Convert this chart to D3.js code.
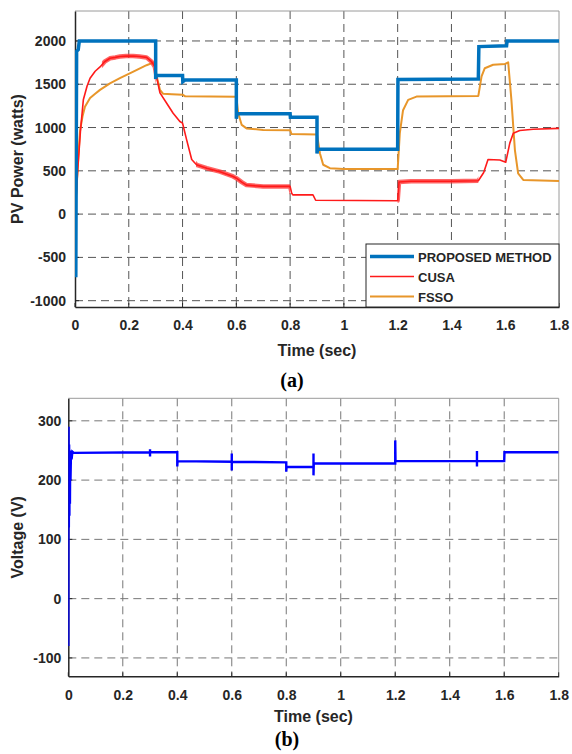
<!DOCTYPE html>
<html>
<head>
<meta charset="utf-8">
<script src="https://cdn.jsdelivr.net/npm/d3@7"></script>
<style>
  html, body { margin: 0; padding: 0; background: #fff; }
  svg { display: block; }
  text { font-family: "Liberation Sans", Arial, sans-serif; font-weight: bold; fill: #262626; }
</style>
</head>
<body>
<svg id="chart" width="572" height="754"></svg>
<script>
// ---------- DATA ----------
const timeTicks = [0, 0.2, 0.4, 0.6, 0.8, 1, 1.2, 1.4, 1.6, 1.8];
const timeTickLabels = ["0", "0.2", "0.4", "0.6", "0.8", "1", "1.2", "1.4", "1.6", "1.8"];
const powerTicks = [-1000, -500, 0, 500, 1000, 1500, 2000];
const powerTickLabels = ["-1000", "-500", "0", "500", "1000", "1500", "2000"];
const voltageTicks = [-100, 0, 100, 200, 300];
const voltageTickLabels = ["-100", "0", "100", "200", "300"];

const seriesNames = ["PROPOSED METHOD", "CUSA", "FSSO"];

const proposedT = [0, 0.003, 0.006, 0.012, 0.016, 0.3, 0.3, 0.302, 0.31, 0.4, 0.401, 0.41, 0.6, 0.6, 0.602, 0.61, 0.8, 0.801, 0.9, 0.9, 0.902, 0.91, 1.2, 1.201, 1.5, 1.502, 1.605, 1.607, 1.8];
const proposedP = [0, -730, 1880, 1900, 2000, 2000, 1560, 1600, 1600, 1600, 1530, 1550, 1550, 1100, 1160, 1160, 1160, 1120, 1120, 700, 750, 750, 750, 1555, 1560, 1935, 1945, 2000, 2000];

const cusaT = [0, 0.01, 0.02, 0.031, 0.045, 0.056, 0.075, 0.093, 0.11, 0.13, 0.15, 0.167, 0.19, 0.216, 0.24, 0.266, 0.285, 0.297, 0.305, 0.316, 0.341, 0.365, 0.39, 0.4, 0.415, 0.434, 0.452, 0.49, 0.539, 0.588, 0.6, 0.62, 0.638, 0.7, 0.8, 0.806, 0.81, 0.885, 0.895, 1.2, 1.205, 1.25, 1.4, 1.5, 1.52, 1.536, 1.58, 1.602, 1.617, 1.63, 1.654, 1.704, 1.8];
const cusaP = [0, 500, 950, 1320, 1480, 1570, 1650, 1700, 1760, 1800, 1810, 1820, 1825, 1827, 1820, 1810, 1760, 1700, 1560, 1400, 1280, 1165, 1070, 1050, 860, 630, 570, 530, 490, 435, 415, 370, 335, 320, 320, 240, 222, 222, 160, 155, 370, 380, 380, 385, 480, 630, 625, 600, 820, 935, 965, 980, 990];
// time spans where the CUSA trace shows visible ripple
const cusaRippleStart = [0.1, 0.45, 1.2];
const cusaRippleEnd = [0.3, 0.8, 1.5];

const fssoT = [0, 0.006, 0.012, 0.019, 0.028, 0.037, 0.056, 0.075, 0.093, 0.13, 0.167, 0.217, 0.266, 0.291, 0.297, 0.304, 0.316, 0.328, 0.36, 0.4, 0.41, 0.6, 0.607, 0.62, 0.638, 0.7, 0.8, 0.805, 0.9, 0.911, 0.923, 0.948, 1.0, 1.2, 1.208, 1.22, 1.239, 1.27, 1.5, 1.512, 1.524, 1.555, 1.6, 1.611, 1.623, 1.636, 1.648, 1.667, 1.8];
const fssoP = [0, 300, 650, 970, 1130, 1240, 1340, 1390, 1435, 1510, 1570, 1645, 1720, 1750, 1720, 1590, 1435, 1390, 1385, 1380, 1360, 1355, 1165, 1030, 990, 972, 970, 925, 920, 700, 570, 530, 522, 520, 935, 1200, 1320, 1357, 1365, 1590, 1685, 1725, 1735, 1754, 1320, 740, 470, 395, 383];

const voltT = [0, 0.001, 0.002, 0.003, 0.004, 0.005, 0.006, 0.007, 0.008, 0.01, 0.012, 0.015, 0.02, 0.3, 0.3, 0.3, 0.3, 0.4, 0.4, 0.401, 0.6, 0.6, 0.6, 0.6, 0.8, 0.8, 0.801, 0.9, 0.9, 0.9, 0.901, 1.2, 1.2, 1.201, 1.5, 1.5, 1.5, 1.5, 1.6, 1.601, 1.8];
const voltV = [-80, 290, 120, 260, 140, 250, 160, 245, 200, 250, 235, 248, 246, 247, 252, 240, 247, 247, 223, 232, 231, 245, 216, 231, 230, 214, 222, 222, 245, 208, 228, 228, 267, 232, 232, 249, 223, 232, 232, 247, 247];

// ---------- DRAW ----------
const svg = d3.select("#chart");
const FONT_TICK = 14, FONT_LABEL = 16;

function panel(cfg) {
  const g = svg.append("g");
  const x = d3.scaleLinear().domain([0, 1.8]).range([cfg.left, cfg.right]);
  const y = d3.scaleLinear().domain(cfg.yDomain).range([cfg.bottom, cfg.top]);

  g.append("g").selectAll("line").data(timeTicks.slice(1, -1)).join("line")
    .attr("x1", d => x(d)).attr("x2", d => x(d)).attr("y1", cfg.top).attr("y2", cfg.bottom)
    .attr("stroke", cfg.gridColor).attr("stroke-width", 1).attr("stroke-dasharray", "8,5");
  g.append("g").selectAll("line").data(cfg.yTicks).join("line")
    .attr("x1", cfg.left).attr("x2", cfg.right).attr("y1", d => y(d)).attr("y2", d => y(d))
    .attr("stroke", cfg.gridColor).attr("stroke-width", 1).attr("stroke-dasharray", "8,5");

  g.append("path").attr("d", `M${cfg.left},${cfg.top}H${cfg.right}V${cfg.bottom}`)
    .attr("fill", "none").attr("stroke", "#9a9a9a").attr("stroke-width", 1);

  const xAxis = d3.axisBottom(x).tickValues(timeTicks).tickFormat((d, i) => timeTickLabels[i]).tickSize(0).tickPadding(cfg.xPad);
  const gx = g.append("g").attr("transform", `translate(0,${cfg.bottom})`).call(xAxis);
  gx.select(".domain").attr("stroke", "#262626").attr("stroke-width", 1.5);
  gx.selectAll("text").attr("font-size", FONT_TICK).attr("font-family", "Liberation Sans, Arial, sans-serif").attr("font-weight", "bold").attr("fill", "#262626");

  const yAxis = d3.axisLeft(y).tickValues(cfg.yTicks).tickFormat((d, i) => cfg.yTickLabels[i]).tickSize(0).tickPadding(cfg.yPad);
  const gy = g.append("g").attr("transform", `translate(${cfg.left},0)`).call(yAxis);
  gy.select(".domain").attr("stroke", "#262626").attr("stroke-width", 1.5);
  gy.selectAll("text").attr("font-size", FONT_TICK).attr("font-family", "Liberation Sans, Arial, sans-serif").attr("font-weight", "bold").attr("fill", "#262626");

  g.append("g").selectAll("line").data(timeTicks).join("line")
    .attr("x1", d => x(d)).attr("x2", d => x(d)).attr("y1", cfg.bottom).attr("y2", cfg.bottom - 4)
    .attr("stroke", "#262626");
  g.append("g").selectAll("line").data(cfg.yTicks).join("line")
    .attr("x1", cfg.left).attr("x2", cfg.left + 4).attr("y1", d => y(d)).attr("y2", d => y(d))
    .attr("stroke", "#262626");

  g.append("text").attr("x", (cfg.left + cfg.right) / 2).attr("y", cfg.xLabelY)
    .attr("text-anchor", "middle").attr("font-size", FONT_LABEL).text("Time (sec)");
  g.append("text").attr("transform", `translate(${cfg.yLabelX},${(cfg.top + cfg.bottom) / 2}) rotate(-90)`)
    .attr("text-anchor", "middle").attr("font-size", FONT_LABEL).text(cfg.yLabel);
  g.append("text").attr("x", cfg.capX).attr("y", cfg.capY)
    .attr("text-anchor", "middle").attr("font-size", 20)
    .style("font-family", "'Liberation Serif', 'Times New Roman', serif").style("fill", "#000")
    .text(cfg.caption);

  const clipId = "clip" + cfg.caption.replace(/\W/g, "");
  svg.append("clipPath").attr("id", clipId).append("rect")
    .attr("x", cfg.left).attr("y", cfg.top).attr("width", cfg.right - cfg.left).attr("height", cfg.bottom - cfg.top);
  const plot = g.append("g").attr("clip-path", `url(#${clipId})`);
  return { x, y, g, plot };
}

const panelA = panel({
  left: 75, right: 559, top: 11, bottom: 307,
  yDomain: [-1073, 2346], yTicks: powerTicks, yTickLabels: powerTickLabels,
  gridColor: "#555", xPad: 13, yPad: 9,
  xLabelY: 356, yLabelX: 23, yLabel: "PV Power (watts)",
  caption: "(a)", capX: 292, capY: 387
});

const lineGen = (x, y) => d3.line().x(d => x(d[0])).y(d => y(d[1]));
const zip = (a, b) => a.map((t, i) => [t, b[i]]);

panelA.plot.append("path").datum(zip(fssoT, fssoP)).attr("d", lineGen(panelA.x, panelA.y))
  .attr("fill", "none").attr("stroke", "#E8962A").attr("stroke-width", 2).attr("stroke-linejoin", "round");

// CUSA ripple band (wider, translucent stroke only inside the ripple time spans)
const rippleClip = svg.append("clipPath").attr("id", "cusaRipple");
rippleClip.selectAll("rect").data(cusaRippleStart).join("rect")
  .attr("x", d => panelA.x(d)).attr("y", 11)
  .attr("width", (d, i) => panelA.x(cusaRippleEnd[i]) - panelA.x(d)).attr("height", 296);
panelA.plot.append("path").datum(zip(cusaT, cusaP)).attr("d", lineGen(panelA.x, panelA.y))
  .attr("clip-path", "url(#cusaRipple)")
  .attr("fill", "none").attr("stroke", "#FF3030").attr("stroke-opacity", 0.75).attr("stroke-width", 4.5).attr("stroke-linejoin", "round");
panelA.plot.append("path").datum(zip(cusaT, cusaP)).attr("d", lineGen(panelA.x, panelA.y))
  .attr("fill", "none").attr("stroke", "#FF1A1A").attr("stroke-width", 1.6).attr("stroke-linejoin", "round");
panelA.plot.append("path").datum(zip(proposedT, proposedP)).attr("d", lineGen(panelA.x, panelA.y))
  .attr("fill", "none").attr("stroke", "#0072BD").attr("stroke-width", 3.5).attr("stroke-linejoin", "miter");

const legColors = ["#0072BD", "#FF1A1A", "#E8962A"];
const legWidths = [3.5, 1.6, 2];
const leg = panelA.g.append("g");
leg.append("rect").attr("x", 366).attr("y", 244).attr("width", 193).attr("height", 63)
  .attr("fill", "#fff").attr("stroke", "#262626").attr("stroke-width", 1);
seriesNames.forEach((name, i) => {
  const yy = 256.5 + i * 20;
  leg.append("line").attr("x1", 370).attr("x2", 414).attr("y1", yy).attr("y2", yy)
    .attr("stroke", legColors[i]).attr("stroke-width", legWidths[i]);
  leg.append("text").attr("x", 418).attr("y", yy + 5).attr("font-size", 13).text(name);
});

const panelB = panel({
  left: 68.3, right: 558.7, top: 398.3, bottom: 676.3,
  yDomain: [-131, 338], yTicks: voltageTicks, yTickLabels: voltageTickLabels,
  gridColor: "#777", xPad: 14, yPad: 7,
  xLabelY: 722, yLabelX: 23, yLabel: "Voltage (V)",
  caption: "(b)", capX: 287, capY: 746
});
panelB.plot.append("path").datum(zip(voltT, voltV)).attr("d", lineGen(panelB.x, panelB.y))
  .attr("fill", "none").attr("stroke", "#0000FF").attr("stroke-width", 2.4).attr("stroke-linejoin", "miter");
</script>
</body>
</html>
